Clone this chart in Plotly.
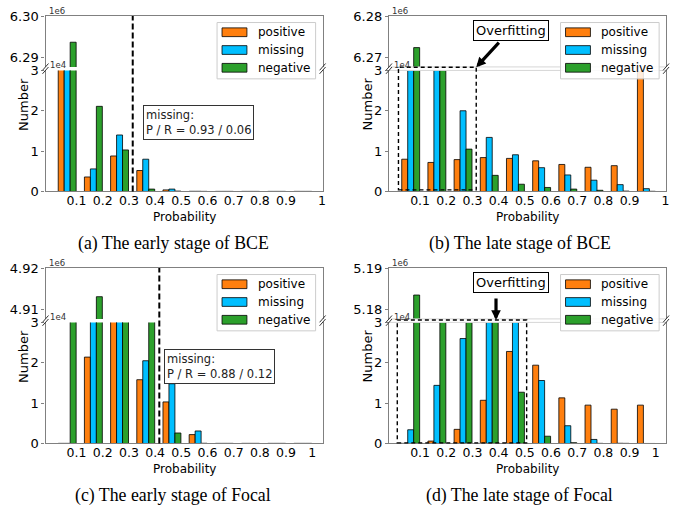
import plotly.graph_objects as go

# ---------------- data ----------------
bin_left = [0.0, 0.1, 0.2, 0.3, 0.4, 0.5, 0.6, 0.7, 0.8, 0.9]
series_names = ["positive", "missing", "negative"]
series_colors = ["#ff7f0e", "#00bfff", "#2ca02c"]

# (a) early stage of BCE
a_positive = [150000, 3600, 8800, 5200, 400, 50, 30, 30, 30, 30]
a_missing = [120000, 5600, 14000, 8000, 600, 50, 30, 30, 30, 30]
a_negative = [6293700, 21100, 10300, 600, 100, 30, 30, 30, 30, 30]
# (b) late stage of BCE
b_positive = [8000, 7200, 7900, 8400, 8200, 7600, 6700, 6000, 6400, 50000]
b_missing = [150000, 120000, 20000, 13400, 9100, 5900, 4100, 2800, 1700, 700]
b_negative = [6272400, 80000, 10500, 4000, 1800, 1000, 600, 300, 100, 50]
# (c) early stage of Focal
c_positive = [30, 21400, 90000, 15800, 10300, 2200, 30, 30, 30, 30]
c_missing = [30, 60000, 110000, 20500, 14800, 3100, 30, 30, 30, 30]
c_negative = [200000, 4913100, 400000, 80000, 2600, 50, 30, 30, 30, 30]
# (d) late stage of Focal
d_positive = [30, 600, 3500, 10700, 22800, 19400, 11300, 9500, 8500, 9500]
d_missing = [3400, 14400, 26000, 90000, 70000, 15600, 4400, 1000, 50, 0]
d_negative = [5183500, 300000, 150000, 120000, 12700, 1800, 200, 30, 30, 0]

x_tick_labels = ["0.1", "0.2", "0.3", "0.4", "0.5", "0.6", "0.7", "0.8", "0.9", "1"]
x_tick_vals_cd = [0.1, 0.2, 0.3, 0.4, 0.5, 0.6, 0.7, 0.8, 0.9, 1.0]
x_tick_vals_ab = [0.1, 0.2, 0.3, 0.4, 0.5, 0.6, 0.7, 0.8, 0.9, 1.037]

captions = ["(a) The early stage of BCE", "(b) The late stage of BCE",
            "(c) The early stage of Focal", "(d) The late stage of Focal"]
top_axis_max = [6.30e6, 6.28e6, 4.92e6, 5.19e6]
top_tick_text = [["6.29", "6.30"], ["6.27", "6.28"], ["4.91", "4.92"], ["5.18", "5.19"]]

thresholds = {0: 0.3145, 2: 0.416}
pr_text = {0: "missing:<br>P / R = 0.93 / 0.06", 2: "missing:<br>P / R = 0.88 / 0.12"}
overfit_rect = {1: (0.0175, 0.3145, 400, 30800), 3: (0.013, 0.507, 160, 30600)}
overfit_arrow = {1: (0.3145, 30800, 24, -26), 3: (0.39, 30600, 0, -23)}

panel_data = [
    (a_positive, a_missing, a_negative),
    (b_positive, b_missing, b_negative),
    (c_positive, c_missing, c_negative),
    (d_positive, d_missing, d_negative),
]

# ---------------- layout geometry (pixels) ----------------
W, H = 691, 518
AX_L = [45.7, 390.7]
AX_W = 278.3
ROW_T = [9.3, 268.8]
TOP_H = 52.4
GAP = 3.6
BOT_H = 124.7
XR = [-0.0186, 1.0395]
BOT_MAX = 30000
BAR_W = 0.0228
BAR_OFF = [0.0414, 0.0642, 0.0870]
SPINE = "#808080"
FONT = "DejaVu Sans"


def px(p):
    return p / W


def py(p):
    return 1 - p / H


def data_x(col, x):
    return AX_L[col] + (x - XR[0]) / (XR[1] - XR[0]) * AX_W


def data_y_bottom(row, y):
    return ROW_T[row] + TOP_H + GAP + (1 - y / BOT_MAX) * BOT_H


fig = go.Figure()
layout = dict(
    width=W, height=H, margin=dict(l=0, r=0, t=0, b=0),
    paper_bgcolor="white", plot_bgcolor="white",
    barmode="overlay", showlegend=False,
    font=dict(family=FONT, color="black"),
)
shapes = []
annotations = []

for p in range(4):
    row, col = p // 2, p % 2
    L = AX_L[col]
    T = ROW_T[row]
    nb, nt = 2 * p + 1, 2 * p + 2
    xd = [px(L), px(L + AX_W)]
    yd_top = [py(T + TOP_H), py(T)]
    yd_bot = [py(T + TOP_H + GAP + BOT_H), py(T + TOP_H + GAP)]
    tickvals = x_tick_vals_ab if row == 0 else x_tick_vals_cd

    def key(a, n):
        return a if n == 1 else f"{a}{n}"

    layout[key("xaxis", nb)] = dict(
        domain=xd, anchor=key("y", nb), range=XR, showgrid=False, zeroline=False,
        showline=True, linecolor=SPINE, linewidth=1.2, ticks="", ticklabelstandoff=-3,
        tickvals=tickvals, ticktext=x_tick_labels, tickfont=dict(size=12.5, family=FONT))
    layout[key("yaxis", nb)] = dict(
        domain=yd_bot, anchor=key("x", nb), range=[0, BOT_MAX], showgrid=False, zeroline=False,
        showline=True, mirror=True, linecolor=SPINE, linewidth=1.2,
        ticks="outside", ticklen=3, tickcolor=SPINE,
        tickvals=[0, 10000, 20000, 30000], ticktext=["0", "1", "2", "3"],
        tickfont=dict(size=13, family=FONT))
    tmax = top_axis_max[p]
    layout[key("xaxis", nt)] = dict(
        domain=xd, anchor=key("y", nt), range=XR, showgrid=False, zeroline=False,
        showline=True, side="top", linecolor=SPINE, linewidth=1.2, ticks="",
        showticklabels=False)
    layout[key("yaxis", nt)] = dict(
        domain=yd_top, anchor=key("x", nt), range=[tmax - 12240, tmax], showgrid=False,
        zeroline=False, showline=True, mirror=True, linecolor=SPINE, linewidth=1.2,
        ticks="outside", ticklen=3, tickcolor=SPINE,
        tickvals=[tmax - 10000, tmax], ticktext=top_tick_text[p],
        tickfont=dict(size=13, family=FONT))

    for s in range(3):
        xs = [b + BAR_OFF[s] for b in bin_left]
        for n in (nb, nt):
            fig.add_trace(go.Bar(
                x=xs, y=panel_data[p][s], width=BAR_W, name=series_names[s],
                marker=dict(color=series_colors[s], line=dict(color="black", width=0.8)),
                xaxis=key("x", n), yaxis=key("y", n), showlegend=False))

    # light break band in late-stage panels
    if col == 1:
        for yy in (T + TOP_H, T + TOP_H + GAP):
            shapes.append(dict(type="line", xref="paper", yref="paper",
                               x0=px(L), x1=px(L + AX_W), y0=py(yy), y1=py(yy),
                               line=dict(color="#d6d6d6", width=1)))

    # break marks
    for xx in (L, L + AX_W):
        for yy in (T + TOP_H, T + TOP_H + GAP):
            shapes.append(dict(type="line", xref="paper", yref="paper",
                               x0=px(xx - 3), x1=px(xx + 3), y0=py(yy + 3.5), y1=py(yy - 3.5),
                               line=dict(color="#333333", width=1)))

    # threshold line and P/R box
    if p in thresholds:
        xx = data_x(col, thresholds[p])
        shapes.append(dict(type="line", xref="paper", yref="paper",
                           x0=px(xx), x1=px(xx), y0=py(T + TOP_H + GAP + BOT_H), y1=py(T),
                           line=dict(color="black", width=2, dash="6px,3px")))
        bx = L + (98.3 if p == 0 else 119.3)
        by = T + (91.7 if p == 0 else 83.2)
        annotations.append(dict(
            xref="paper", yref="paper", x=px(bx), y=py(by), xanchor="left", yanchor="top",
            text=pr_text[p], align="left", showarrow=False,
            font=dict(size=11.5, family=FONT, color="#222"),
            bordercolor="#333333", borderwidth=1, borderpad=2, bgcolor="white"))

    # overfitting annotations
    if p in overfit_rect:
        x0, x1, y0, y1 = overfit_rect[p]
        shapes.append(dict(type="rect", xref="paper", yref="paper",
                           x0=px(data_x(col, x0)), x1=px(data_x(col, x1)),
                           y0=py(data_y_bottom(row, y0)), y1=py(data_y_bottom(row, y1)),
                           line=dict(color="black", width=1.4, dash="4px,3px")))
        ax_, ay_, dax, day = overfit_arrow[p]
        annotations.append(dict(
            xref="paper", yref="paper",
            x=px(data_x(col, ax_)), y=py(data_y_bottom(row, ay_)),
            ax=dax, ay=day, text="", showarrow=True,
            arrowhead=2, arrowwidth=3.2, arrowsize=0.6, arrowcolor="black", standoff=0))
        annotations.append(dict(
            xref="paper", yref="paper", x=px(L + 123), y=py(T + 15.3),
            xanchor="center", yanchor="middle", text="Overfitting", showarrow=False,
            font=dict(size=13, family=FONT, color="black"),
            bordercolor="black", borderwidth=1, borderpad=2, bgcolor="white"))

    # manual legend
    shapes.append(dict(type="rect", xref="paper", yref="paper",
                       x0=px(L + 172.3), x1=px(L + 271.3), y0=py(T + 64.7), y1=py(T + 6.7),
                       fillcolor="rgba(255,255,255,0.85)", line=dict(color="#cccccc", width=1)))
    for s in range(3):
        rc = T + 16.7 + 18.3 * s
        shapes.append(dict(type="rect", xref="paper", yref="paper",
                           x0=px(L + 177.3), x1=px(L + 202.3), y0=py(rc + 4.5), y1=py(rc - 4.5),
                           fillcolor=series_colors[s], line=dict(color="black", width=0.8)))
        annotations.append(dict(
            xref="paper", yref="paper", x=px(L + 211), y=py(rc), xanchor="left",
            yanchor="middle", text=series_names[s], showarrow=False,
            font=dict(size=12, family=FONT, color="black")))

    # offset texts
    annotations.append(dict(xref="paper", yref="paper", x=px(L + 1.5), y=py(T - 4.8),
                            xanchor="left", yanchor="middle", text="1e6", showarrow=False,
                            font=dict(size=8.5, family=FONT, color="#333")))
    annotations.append(dict(xref="paper", yref="paper", x=px(L + 3), y=py(T + 50.5),
                            xanchor="left", yanchor="middle", text="1e4", showarrow=False,
                            font=dict(size=8.5, family=FONT, color="#333")))
    # axis titles
    annotations.append(dict(xref="paper", yref="paper", x=px(L - 22), y=py(T + 91),
                            xanchor="center", yanchor="middle", text="Number", textangle=-90,
                            showarrow=False, font=dict(size=13, family=FONT, color="black")))
    annotations.append(dict(xref="paper", yref="paper", x=px(L + 139.3), y=py(T + 207.4),
                            xanchor="center", yanchor="middle", text="Probability",
                            showarrow=False, font=dict(size=12, family=FONT, color="black")))
    # caption
    annotations.append(dict(xref="paper", yref="paper", x=px(L + (128.3 if col == 0 else 131.5)),
                            y=py(T + 234), xanchor="center", yanchor="middle", text=captions[p],
                            showarrow=False,
                            font=dict(size=17.8, family="Liberation Serif", color="black")))

layout["shapes"] = shapes
layout["annotations"] = annotations
fig.update_layout(**layout)
fig.write_html("out.html")
